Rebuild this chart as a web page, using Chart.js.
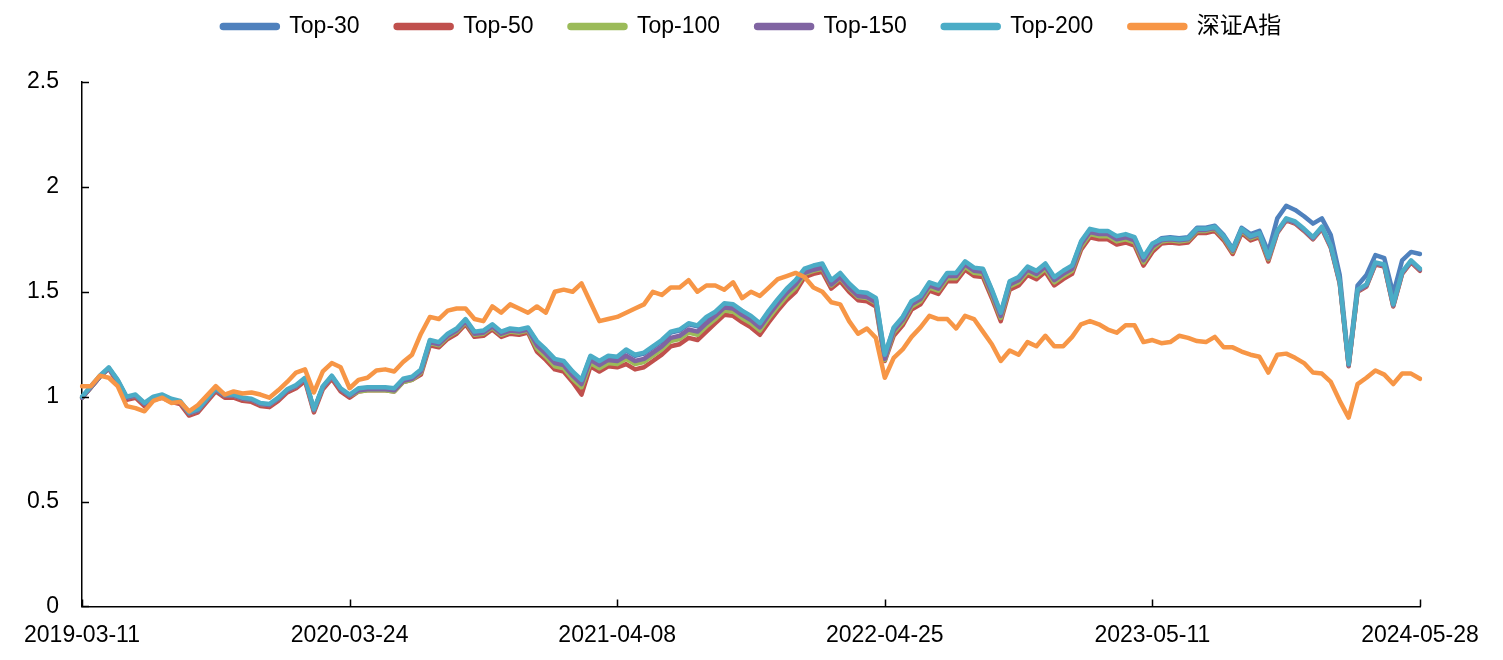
<!DOCTYPE html>
<html>
<head>
<meta charset="utf-8">
<script src="https://cdn.jsdelivr.net/npm/chart.js@4.4.1/dist/chart.umd.min.js"></script>
<style>
html,body{margin:0;padding:0;background:#fff}
#wrap{width:1503px;height:660px;position:relative}
</style>
</head>
<body>
<div id="wrap"><canvas id="chart"></canvas></div>
<script>
// ---- data (one point every ~8.9px of the original, 30 points between labelled dates) ----
const TICK_LABELS = ['2019-03-11','2020-03-24','2021-04-08','2022-04-25','2023-05-11','2024-05-28'];
const TICK_STEP = 30;
const N_POINTS = 151;
const SERIES_NAMES = ['Top-30','Top-50','Top-100','Top-150','Top-200','深证A指'];
const SERIES_COLORS = ['#4F81BD','#C0504D','#9BBB59','#8064A2','#4BACC6','#F79646'];

const TOP30 = [
0.995,1.045,1.095,1.135,1.075,0.995,1.005,0.965,0.995,1.005,
0.985,0.975,0.92,0.935,0.985,1.035,1.005,1.005,0.99,0.985,
0.965,0.96,0.99,1.03,1.05,1.085,0.935,1.045,1.095,1.035,
1.005,1.035,1.04,1.04,1.04,1.035,1.08,1.09,1.125,1.265,
1.255,1.295,1.32,1.365,1.305,1.31,1.34,1.305,1.32,1.315,
1.325,1.26,1.22,1.175,1.165,1.115,1.075,1.19,1.165,1.19,
1.185,1.22,1.195,1.205,1.235,1.265,1.305,1.315,1.345,1.335,
1.375,1.40,1.44,1.435,1.405,1.38,1.345,1.405,1.46,1.51,
1.55,1.605,1.62,1.63,1.55,1.585,1.535,1.495,1.49,1.465,
1.195,1.325,1.375,1.45,1.475,1.54,1.525,1.585,1.585,1.64,
1.61,1.605,1.505,1.395,1.545,1.565,1.615,1.595,1.63,1.565,
1.595,1.62,1.735,1.795,1.785,1.785,1.76,1.77,1.755,1.66,
1.725,1.755,1.76,1.755,1.76,1.805,1.805,1.815,1.77,1.705,
1.805,1.775,1.79,1.69,1.85,1.91,1.89,1.86,1.825,1.85,
1.77,1.58,1.16,1.53,1.58,1.675,1.66,1.49,1.65,1.69,
1.68];
const TOP50 = [
0.995,1.045,1.095,1.135,1.065,0.985,0.995,0.955,0.985,0.995,
0.975,0.965,0.91,0.925,0.975,1.025,0.995,0.995,0.98,0.975,
0.955,0.95,0.98,1.02,1.04,1.075,0.925,1.035,1.085,1.025,
0.995,1.025,1.03,1.03,1.03,1.025,1.07,1.08,1.105,1.245,
1.235,1.275,1.30,1.345,1.285,1.29,1.32,1.285,1.30,1.295,
1.305,1.215,1.175,1.13,1.12,1.07,1.01,1.145,1.12,1.145,
1.14,1.155,1.13,1.14,1.17,1.20,1.24,1.25,1.28,1.27,
1.31,1.35,1.39,1.385,1.355,1.33,1.295,1.355,1.41,1.46,
1.50,1.57,1.585,1.595,1.515,1.55,1.50,1.46,1.455,1.43,
1.17,1.29,1.34,1.415,1.44,1.505,1.49,1.55,1.55,1.605,
1.575,1.57,1.47,1.36,1.51,1.53,1.58,1.56,1.595,1.53,
1.56,1.585,1.70,1.76,1.75,1.75,1.725,1.735,1.72,1.625,
1.69,1.73,1.735,1.73,1.735,1.78,1.78,1.79,1.745,1.68,
1.78,1.745,1.76,1.645,1.78,1.84,1.825,1.79,1.75,1.80,
1.71,1.54,1.145,1.50,1.525,1.63,1.62,1.43,1.585,1.64,
1.60];
const TOP100 = [
0.995,1.045,1.095,1.135,1.075,0.995,1.005,0.965,0.995,1.005,
0.985,0.975,0.92,0.935,0.985,1.035,1.005,1.005,0.99,0.985,
0.965,0.96,0.99,1.03,1.05,1.085,0.935,1.045,1.095,1.035,
1.005,1.025,1.03,1.03,1.03,1.025,1.07,1.08,1.115,1.255,
1.245,1.285,1.31,1.355,1.295,1.30,1.33,1.295,1.31,1.305,
1.315,1.23,1.19,1.145,1.135,1.085,1.045,1.16,1.135,1.16,
1.155,1.18,1.155,1.165,1.195,1.225,1.265,1.275,1.305,1.295,
1.335,1.37,1.41,1.405,1.375,1.35,1.315,1.375,1.43,1.48,
1.52,1.585,1.60,1.61,1.53,1.565,1.515,1.475,1.47,1.445,
1.175,1.305,1.355,1.43,1.455,1.52,1.505,1.565,1.565,1.62,
1.59,1.585,1.485,1.375,1.525,1.545,1.595,1.575,1.61,1.545,
1.575,1.60,1.715,1.775,1.765,1.765,1.74,1.75,1.735,1.64,
1.705,1.74,1.745,1.74,1.745,1.79,1.79,1.80,1.755,1.69,
1.79,1.755,1.77,1.655,1.785,1.845,1.83,1.795,1.755,1.805,
1.715,1.545,1.15,1.505,1.53,1.635,1.625,1.435,1.59,1.645,
1.605];
const TOP150 = [
0.995,1.045,1.095,1.135,1.075,0.995,1.005,0.965,0.995,1.005,
0.985,0.975,0.92,0.935,0.985,1.035,1.005,1.005,0.99,0.985,
0.965,0.96,0.99,1.03,1.05,1.085,0.935,1.045,1.095,1.035,
1.005,1.03,1.035,1.035,1.035,1.03,1.075,1.085,1.12,1.26,
1.25,1.29,1.315,1.36,1.30,1.305,1.335,1.30,1.315,1.31,
1.32,1.245,1.205,1.16,1.15,1.10,1.06,1.175,1.15,1.175,
1.17,1.195,1.17,1.18,1.21,1.24,1.28,1.29,1.32,1.31,
1.35,1.385,1.425,1.42,1.39,1.365,1.33,1.39,1.445,1.495,
1.535,1.59,1.605,1.615,1.535,1.57,1.52,1.48,1.475,1.45,
1.18,1.315,1.365,1.44,1.465,1.53,1.515,1.575,1.575,1.63,
1.60,1.595,1.495,1.385,1.535,1.555,1.605,1.585,1.62,1.555,
1.585,1.61,1.725,1.785,1.775,1.775,1.75,1.76,1.745,1.65,
1.715,1.745,1.75,1.745,1.75,1.795,1.795,1.805,1.76,1.695,
1.795,1.76,1.775,1.66,1.785,1.845,1.83,1.795,1.755,1.805,
1.715,1.545,1.15,1.505,1.53,1.635,1.625,1.435,1.59,1.645,
1.605];
const TOP200 = [
1.00,1.05,1.10,1.14,1.08,1.00,1.01,0.97,1.00,1.01,
0.99,0.98,0.925,0.94,0.99,1.04,1.01,1.01,0.995,0.99,
0.97,0.965,0.995,1.035,1.055,1.09,0.94,1.05,1.10,1.04,
1.01,1.04,1.045,1.045,1.045,1.04,1.085,1.095,1.13,1.27,
1.26,1.30,1.325,1.37,1.31,1.315,1.345,1.31,1.325,1.32,
1.33,1.265,1.225,1.18,1.17,1.12,1.08,1.195,1.17,1.195,
1.19,1.225,1.20,1.21,1.24,1.27,1.31,1.32,1.35,1.34,
1.38,1.405,1.445,1.44,1.41,1.385,1.35,1.41,1.465,1.515,
1.555,1.61,1.625,1.635,1.555,1.59,1.54,1.50,1.495,1.47,
1.20,1.33,1.38,1.455,1.48,1.545,1.53,1.59,1.59,1.645,
1.615,1.61,1.51,1.40,1.55,1.57,1.62,1.60,1.635,1.57,
1.60,1.625,1.74,1.80,1.79,1.79,1.765,1.775,1.76,1.665,
1.73,1.75,1.755,1.75,1.755,1.80,1.80,1.81,1.765,1.70,
1.80,1.765,1.78,1.665,1.79,1.85,1.835,1.80,1.76,1.81,
1.72,1.55,1.155,1.51,1.535,1.64,1.63,1.44,1.595,1.65,
1.61];
const SZ_A = [
1.05,1.05,1.10,1.09,1.05,0.955,0.945,0.93,0.98,0.995,
0.97,0.975,0.93,0.96,1.005,1.05,1.01,1.025,1.015,1.02,
1.01,0.995,1.03,1.07,1.115,1.13,1.02,1.12,1.16,1.14,
1.04,1.08,1.09,1.125,1.13,1.12,1.165,1.20,1.30,1.38,
1.37,1.41,1.42,1.42,1.37,1.36,1.43,1.40,1.44,1.42,
1.40,1.43,1.40,1.50,1.51,1.50,1.54,1.45,1.36,1.37,
1.38,1.40,1.42,1.44,1.50,1.485,1.52,1.52,1.555,1.50,
1.53,1.53,1.51,1.545,1.47,1.50,1.48,1.52,1.56,1.575,
1.59,1.57,1.52,1.50,1.45,1.44,1.36,1.30,1.325,1.28,
1.09,1.185,1.225,1.285,1.33,1.385,1.37,1.37,1.325,1.385,
1.37,1.31,1.25,1.17,1.22,1.20,1.26,1.24,1.29,1.24,
1.24,1.285,1.345,1.36,1.345,1.32,1.305,1.34,1.34,1.26,
1.27,1.255,1.26,1.29,1.28,1.265,1.26,1.285,1.235,1.235,
1.215,1.20,1.19,1.115,1.20,1.205,1.185,1.16,1.115,1.11,
1.07,0.98,0.90,1.06,1.09,1.125,1.105,1.06,1.11,1.11,
1.085];

const X_LABELS = Array.from({length: N_POINTS}, (_, i) => i % TICK_STEP === 0 ? TICK_LABELS[i / TICK_STEP] : '');
const SERIES = [TOP30, TOP50, TOP100, TOP150, TOP200, SZ_A];
// excel draws the last series on top; chart.js draws low `order` on top
const DRAW_ORDER = [5, 4, 3, 2, 1, 0];

Chart.defaults.font.family = '"Liberation Sans", Arial, "Noto Sans CJK SC", sans-serif';
Chart.defaults.font.size = 23;
Chart.defaults.color = '#000';

// inward tick marks like the source chart
const innerTicks = {
  id: 'innerTicks',
  afterDraw(chart) {
    const {ctx, chartArea, scales: {x, y}} = chart;
    ctx.save();
    ctx.strokeStyle = '#000';
    ctx.lineWidth = 1.5;
    ctx.beginPath();
    y.ticks.forEach((t, i) => {
      const py = Math.round(y.getPixelForTick(i)) + 0.5;
      ctx.moveTo(chartArea.left, py); ctx.lineTo(chartArea.left + 7, py);
    });
    x.ticks.forEach((t, i) => {
      if (!X_LABELS[t.value]) return;
      const px = Math.round(x.getPixelForTick(i)) + 0.5;
      ctx.moveTo(px, chartArea.bottom); ctx.lineTo(px, chartArea.bottom - 7);
    });
    ctx.stroke();
    ctx.restore();
  }
};

// leave room between legend and plot
const legendSpacer = {
  id: 'legendSpacer',
  beforeInit(chart) {
    const fit = chart.legend.fit;
    chart.legend.fit = function () { fit.call(this); this.height = 103; };
  }
};

new Chart(document.getElementById('chart'), {
  type: 'line',
  data: {
    labels: X_LABELS,
    datasets: SERIES.map((d, k) => ({
      label: SERIES_NAMES[k], data: d, order: DRAW_ORDER[k],
      borderColor: SERIES_COLORS[k], backgroundColor: SERIES_COLORS[k],
      borderWidth: 4.5, pointRadius: 0, tension: 0, borderJoinStyle: 'round', borderCapStyle: 'round'
    }))
  },
  options: {
    responsive: true, maintainAspectRatio: false, animation: false,
    layout: { padding: { top: -21, left: 0, right: 0, bottom: -4 } },
    plugins: {
      tooltip: { enabled: false },
      legend: {
        position: 'top',
        labels: {
          boxWidth: 56, boxHeight: 3, padding: 36, useBorderRadius: true, borderRadius: 1.5,
          sort: (a, b) => a.datasetIndex - b.datasetIndex
        }
      }
    },
    scales: {
      x: {
        grid: { display: false, drawTicks: false },
        border: { display: true, color: '#000', width: 1.5 },
        ticks: { autoSkip: false, maxRotation: 0, padding: 15 }
      },
      y: {
        min: 0, max: 2.5,
        grid: { display: false, drawTicks: false },
        border: { display: true, color: '#000', width: 1.5 },
        ticks: { stepSize: 0.5, padding: 23, callback: v => String(+v.toFixed(1)) },
        afterFit: s => { s.width = 82; }
      },
      y2: {
        position: 'right',
        grid: { display: false, drawTicks: false },
        border: { display: false },
        ticks: { display: false },
        afterFit: s => { s.width = 83; }
      }
    }
  },
  plugins: [innerTicks, legendSpacer]
});
</script>
</body>
</html>
